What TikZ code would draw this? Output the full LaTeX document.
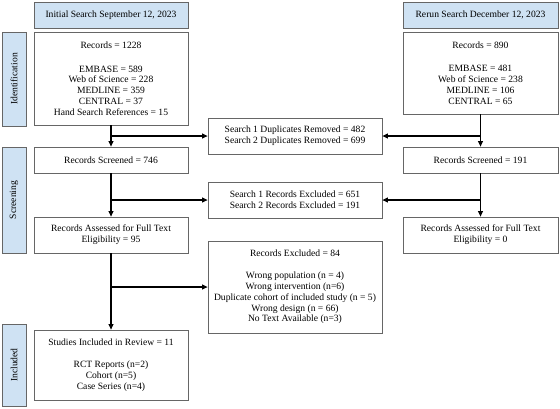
\documentclass[tikz,border=0pt]{standalone}
\usepackage{fontspec}
\setmainfont{Liberation Serif}
\usetikzlibrary{arrows.meta}
\definecolor{hdr}{HTML}{CFE2F3}
\definecolor{bord}{HTML}{666666}
\begin{document}
\begin{tikzpicture}[x=1pt,y=-1pt, font=\fontsize{9.6}{10.8}\selectfont,
 box/.style={draw=bord, line width=0.8pt, fill=white, align=center, inner sep=0pt},
 hdrbox/.style={box, fill=hdr},
 side/.style={box, fill=hdr, rotate=90},
 arr/.style={line width=1.1pt, -{Triangle[length=5.5pt,width=5pt]}},
 ln/.style={line width=1.1pt}]
\useasboundingbox (0,0) rectangle (560,408);
% headers
\node[hdrbox, minimum width=154pt, minimum height=26pt] (h1) at (111,15) {Initial Search September 12, 2023};
\node[hdrbox, minimum width=155pt, minimum height=26pt] (h2) at (480.5,15) {Rerun Search December 12, 2023};
% side labels
\node[side, minimum width=94pt, minimum height=24pt] (s1) at (14,79) {Identification};
\node[side, minimum width=106pt, minimum height=24pt] (s2) at (14,200) {Screening};
\node[side, minimum width=82pt, minimum height=24pt] (s3) at (14,365) {Included};
% boxes
\node[box, minimum width=154pt, minimum height=93pt] (rec1) at (111,78.5) {Records = 1228\\[13pt]EMBASE = 589\\Web of Science = 228\\MEDLINE = 359\\CENTRAL = 37\\Hand Search References = 15};
\node[box, minimum width=155pt, minimum height=82pt] (rec2) at (480.5,73) {Records = 890\\[13pt]EMBASE = 481\\Web of Science = 238\\MEDLINE = 106\\CENTRAL = 65};
\node[box, minimum width=174pt, minimum height=36pt] (dup) at (295,136) {Search 1 Duplicates Removed = 482\\Search 2 Duplicates Removed = 699};
\node[box, minimum width=154pt, minimum height=26pt] (scr1) at (111,160) {Records Screened = 746};
\node[box, minimum width=155pt, minimum height=26pt] (scr2) at (480.5,160) {Records Screened = 191};
\node[box, minimum width=174pt, minimum height=36pt] (exc) at (295,200) {Search 1 Records Excluded = 651\\Search 2 Records Excluded = 191};
\node[box, minimum width=154pt, minimum height=36pt] (ass1) at (111,235) {Records Assessed for Full Text\\Eligibility = 95};
\node[box, minimum width=155pt, minimum height=36pt] (ass2) at (480.5,235) {Records Assessed for Full Text\\Eligibility = 0};
\node[box, minimum width=174pt, minimum height=92pt] (exc2) at (295,287) {Records Excluded = 84\\[11pt]Wrong population (n = 4)\\Wrong intervention (n=6)\\Duplicate cohort of included study (n = 5)\\Wrong design (n = 66)\\No Text Available (n=3)};
\node[box, minimum width=154pt, minimum height=70pt] (inc) at (111,365) {Studies Included in Review = 11\\[12pt]RCT Reports (n=2)\\Cohort (n=5)\\Case Series (n=4)};
% connectors
\draw[arr] (rec1.south) -- (scr1.north);
\draw[arr] (rec1.south |- dup.west) -- (dup.west);
\draw[arr] (scr1.south) -- (ass1.north);
\draw[arr] (scr1.south |- exc.west) -- (exc.west);
\draw[arr] (ass1.south) -- (inc.north);
\draw[arr] (ass1.south |- exc2.west) -- (exc2.west);
\draw[arr] (rec2.south) -- (scr2.north);
\draw[arr] (rec2.south |- dup.east) -- (dup.east);
\draw[arr] (scr2.south) -- (ass2.north);
\draw[arr] (scr2.south |- exc.east) -- (exc.east);
\end{tikzpicture}
\end{document}
